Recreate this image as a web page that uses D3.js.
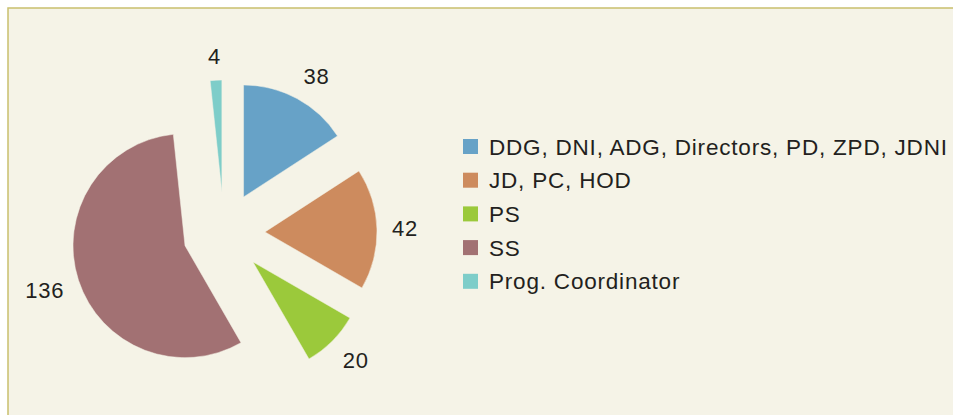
<!DOCTYPE html>
<html>
<head>
<meta charset="utf-8">
<script src="https://cdn.jsdelivr.net/npm/d3@7"></script>
<style>
  body { margin: 0; background: #ffffff; }
  svg { display: block; font-family: "Liberation Sans", Arial, sans-serif; }
</style>
</head>
<body>
<script>
(function(){

	//categories and values
	var categories = ["DDG, DNI, ADG, Directors, PD, ZPD, JDNI", "JD, PC, HOD", "PS", "SS", "Prog. Coordinator"];
	var values = [38, 42, 20, 136, 4];
	var colors = ["#67a2c7", "#cd8b5e", "#9bc93b", "#a27173", "#7ecdc9"];

	var width = 953,
		height = 415;

	var svg = d3.select("body")
		.append("svg")
		.attr("width", width)
		.attr("height", height);

	//cream panel with olive border on top and left
	svg.append("rect")
		.attr("x", 8)
		.attr("y", 8)
		.attr("width", width)
		.attr("height", height)
		.attr("fill", "#f5f3e7")
		.attr("stroke", "#c9c06e")
		.attr("stroke-width", 1.5);

	//pie settings
	var cx = 224, cy = 233,
		radius = 112,
		explode = 41,
		labelR = 168;

	var pie = d3.pie()
		.sort(null)
		.value(function(d){ return d; });

	var arc = d3.arc()
		.innerRadius(0)
		.outerRadius(radius);

	var arcs = pie(values);

	//smooth sign so labels near the axes don't jump
	function softSign(t){ return Math.max(-1, Math.min(1, t * 2)); }

	var g = svg.append("g")
		.attr("transform", "translate(" + cx + "," + cy + ")");

	g.selectAll(".slice")
		.data(arcs)
		.enter()
		.append("path")
		.attr("class", "slice")
		.attr("d", arc)
		.attr("fill", function(d, i){ return colors[i]; })
		.attr("stroke", "#f5f3e7")
		.attr("stroke-width", 0.5)
		.attr("transform", function(d){
			var a = (d.startAngle + d.endAngle) / 2;
			return "translate(" + (Math.sin(a) * explode) + "," + (-Math.cos(a) * explode) + ")";
		});

	//value labels outside the slices, nearest corner of the box sits on labelR
	g.selectAll(".val")
		.data(arcs)
		.enter()
		.append("text")
		.attr("class", "val")
		.attr("x", function(d){
			var a = (d.startAngle + d.endAngle) / 2;
			var w = String(d.data).length * 13;
			return Math.sin(a) * labelR + softSign(Math.sin(a)) * w / 2;
		})
		.attr("y", function(d){
			var a = (d.startAngle + d.endAngle) / 2;
			return -Math.cos(a) * labelR + softSign(-Math.cos(a)) * 9;
		})
		.attr("text-anchor", "middle")
		.attr("dominant-baseline", "central")
		.attr("font-size", 22)
		.attr("letter-spacing", 0.8)
		.attr("fill", "#231f20")
		.text(function(d){ return d.data; });

	//legend
	var legend = svg.append("g")
		.attr("transform", "translate(463,139)");

	var rows = legend.selectAll(".row")
		.data(categories)
		.enter()
		.append("g")
		.attr("class", "row")
		.attr("transform", function(d, i){ return "translate(0," + (i * 33.7) + ")"; });

	rows.append("rect")
		.attr("width", 15)
		.attr("height", 15)
		.attr("fill", function(d, i){ return colors[i]; });

	rows.append("text")
		.attr("x", 26)
		.attr("y", 8)
		.attr("dominant-baseline", "central")
		.attr("font-size", 22.5)
		.attr("letter-spacing", 0.8)
		.attr("fill", "#231f20")
		.text(function(d){ return d; });

})();
</script>
</body>
</html>
